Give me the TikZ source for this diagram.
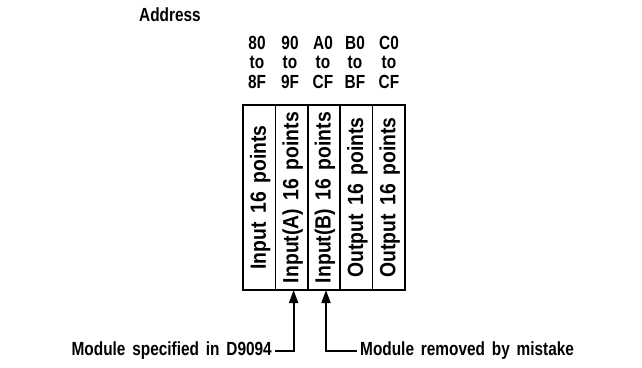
\documentclass[tikz,border=0pt]{standalone}
\usepackage{fontspec}
\setmainfont{Liberation Sans}[WordSpace=1.6]
\newfontfamily\condfont{Liberation Sans}[WordSpace=1.6,FakeStretch=0.81]
\newfontfamily\vfont{Liberation Sans}[WordSpace=1.6,FakeStretch=0.88]
\usetikzlibrary{arrows.meta}
\begin{document}
\begin{tikzpicture}[x=1pt,y=-1pt,
  col/.style={draw=black,line width=1.3pt,minimum width=32pt,minimum height=185pt,inner sep=0pt,outer sep=0pt},
  vtext/.style={rotate=90,font=\vfont\bfseries\fontsize{22}{24}\selectfont,inner sep=0pt},
  hdr/.style={font=\condfont\bfseries\fontsize{19}{21}\selectfont,inner sep=0pt},
  lab/.style={font=\condfont\bfseries\fontsize{19}{21}\selectfont,inner sep=3pt},
  ptr/.style={line width=1.8pt,-{Triangle[length=13pt,width=9pt]}}]
\useasboundingbox (0,0) rectangle (642,367);
% columns
\node[col] (c1) at (259.2,197.5) {};
\node[col] (c2) at (291.6,197.5) {};
\node[col] (c3) at (324,197.5) {};
\node[col] (c4) at (356.4,197.5) {};
\node[col] (c5) at (388.8,197.5) {};
\draw[line width=2.2pt] (c1.north west) rectangle (c5.south east);
\node[vtext] (t1) at ([xshift=1pt]c1.center) {Input 16 points};
\node[vtext] (t2) at ([xshift=1pt]c2.center) {Input(A) 16 points};
\node[vtext] (t3) at ([xshift=1pt]c3.center) {Input(B) 16 points};
\node[vtext] (t4) at ([xshift=1pt]c4.center) {Output 16 points};
\node[vtext] (t5) at ([xshift=1pt]c5.center) {Output 16 points};
% headers
\node[hdr] (addr) at (170,15) {Address};
\node[hdr] (a1) at (257,43) {80};
\node[hdr] (a2) at (290,43) {90};
\node[hdr] (a3) at (323,43) {A0};
\node[hdr] (a4) at (355,43) {B0};
\node[hdr] (a5) at (389,43) {C0};
\node[hdr] (b1) at (257,62) {to};
\node[hdr] (b2) at (290,62) {to};
\node[hdr] (b3) at (323,62) {to};
\node[hdr] (b4) at (355,62) {to};
\node[hdr] (b5) at (389,62) {to};
\node[hdr] (d1) at (257,82) {8F};
\node[hdr] (d2) at (290,82) {9F};
\node[hdr] (d3) at (323,82) {CF};
\node[hdr] (d4) at (355,82) {BF};
\node[hdr] (d5) at (389,82) {CF};
% labels and pointers
\node[lab,anchor=east] (l1) at (275,351) {Module specified in D9094};
\node[lab,anchor=west] (l2) at (357,351) {Module removed by mistake};
\coordinate (p1) at ([xshift=2pt]c2.south);
\coordinate (p2) at ([xshift=2pt]c3.south);
\draw[ptr] (l1.east) -| (p1);
\draw[ptr] (l2.west) -| (p2);
\end{tikzpicture}
\end{document}
